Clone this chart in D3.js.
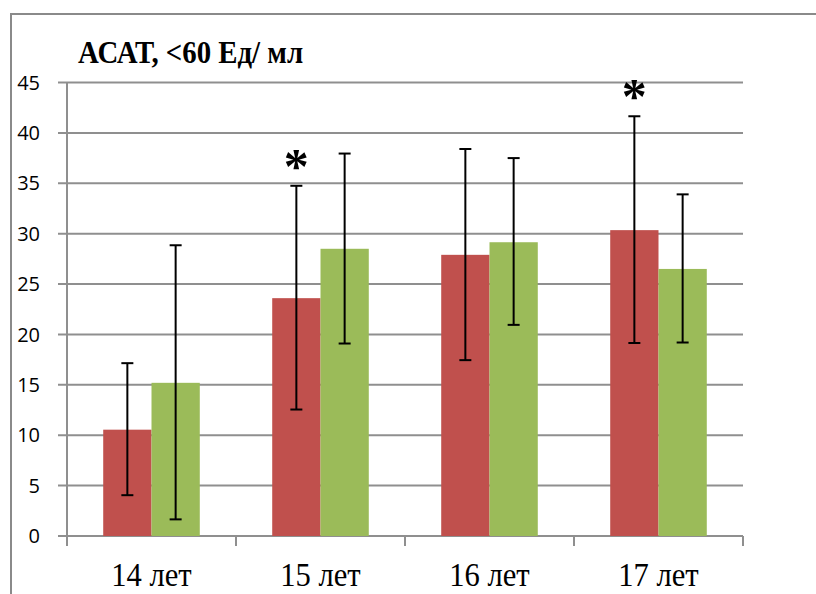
<!DOCTYPE html>
<html>
<head>
<meta charset="utf-8">
<script src="https://cdn.jsdelivr.net/npm/d3@7"></script>
<style>
  body { margin: 0; background: #fff; }
  svg { display: block; }
</style>
</head>
<body>
<div id="chart"></div>
<script>
// Chart data
const categories = ["14 лет", "15 лет", "16 лет", "17 лет"];
const seriesNames = ["red", "green"];
const redValues = [10.55, 23.6, 27.9, 30.35];
const redErrLow = [4.05, 12.55, 17.45, 19.15];
const redErrHigh = [17.15, 34.75, 38.4, 41.65];
const greenValues = [15.2, 28.5, 29.15, 26.5];
const greenErrLow = [1.65, 19.1, 20.95, 19.2];
const greenErrHigh = [28.85, 37.95, 37.5, 33.9];
const redSignificant = [false, true, false, true];
const yTicks = [0, 5, 10, 15, 20, 25, 30, 35, 40, 45];
const title = "АСАТ, <60 Ед/ мл";

const colors = { red: "#C0504D", green: "#9BBB59" };
const gridColor = "#8f8f8f";
const serif = "'Liberation Serif', 'Times New Roman', serif";

const width = 816, height = 594;
const plot = { left: 67, right: 743, top: 82.5, bottom: 536 };

const svg = d3.select("#chart").append("svg")
    .attr("width", width)
    .attr("height", height);

// Frame of the chart area (cut by the page)
svg.append("path")
    .attr("d", `M11,${height} V14 H${width}`)
    .attr("fill", "none")
    .attr("stroke", "#8a8a8a")
    .attr("stroke-width", 2);

const x = d3.scaleBand()
    .domain(categories)
    .range([plot.left, plot.right]);

const xInner = d3.scaleBand()
    .domain(seriesNames)
    .range([0, x.bandwidth()])
    .paddingOuter(0.75);

const y = d3.scaleLinear()
    .domain([0, 45])
    .range([plot.bottom, plot.top]);

// Horizontal gridlines
svg.append("g")
    .selectAll("line")
    .data(yTicks)
    .join("line")
    .attr("x1", plot.left - 9)
    .attr("x2", plot.right)
    .attr("y1", d => y(d))
    .attr("y2", d => y(d))
    .attr("stroke", gridColor)
    .attr("stroke-width", 2);

// Y axis line
svg.append("line")
    .attr("x1", plot.left).attr("x2", plot.left)
    .attr("y1", y(45)).attr("y2", y(0))
    .attr("stroke", gridColor)
    .attr("stroke-width", 2);

// X axis ticks between categories
const boundaries = categories.map(c => x(c)).concat([plot.right]);
svg.append("g")
    .selectAll("line")
    .data(boundaries)
    .join("line")
    .attr("x1", d => d).attr("x2", d => d)
    .attr("y1", y(0)).attr("y2", y(0) + 10)
    .attr("stroke", gridColor)
    .attr("stroke-width", 2);

// Y tick labels
svg.append("g")
    .selectAll("text")
    .data(yTicks)
    .join("text")
    .attr("x", 40)
    .attr("y", d => y(d))
    .attr("dy", "0.36em")
    .attr("text-anchor", "end")
    .attr("font-family", "'Open Sans', sans-serif")
    .attr("font-size", 20)
    .attr("fill", "#000")
    .text(d => d);

// X labels (the source is a bit stretched vertically)
svg.append("g")
    .selectAll("text")
    .data(categories)
    .join("text")
    .attr("transform", d => `translate(${x(d) + x.bandwidth() / 2},586) scale(1.02,1.15)`)
    .attr("text-anchor", "middle")
    .attr("font-family", serif)
    .attr("font-size", 30)
    .attr("fill", "#000")
    .text(d => d);

// Build bar records
const bars = [];
categories.forEach((c, i) => {
    bars.push({ cat: c, s: "red", v: redValues[i], lo: redErrLow[i], hi: redErrHigh[i], star: redSignificant[i] });
    bars.push({ cat: c, s: "green", v: greenValues[i], lo: greenErrLow[i], hi: greenErrHigh[i], star: false });
});

const cx = d => x(d.cat) + xInner(d.s) + xInner.bandwidth() / 2;

svg.append("g")
    .selectAll("rect")
    .data(bars)
    .join("rect")
    .attr("x", d => x(d.cat) + xInner(d.s))
    .attr("y", d => y(d.v))
    .attr("width", xInner.bandwidth())
    .attr("height", d => y(0) - y(d.v))
    .attr("fill", d => colors[d.s]);

// Error bars
const err = svg.append("g")
    .attr("stroke", "#000")
    .attr("stroke-width", 2);

err.selectAll("line.stem")
    .data(bars)
    .join("line")
    .attr("class", "stem")
    .attr("x1", cx).attr("x2", cx)
    .attr("y1", d => y(d.lo)).attr("y2", d => y(d.hi));

err.selectAll("line.cap-hi")
    .data(bars)
    .join("line")
    .attr("class", "cap-hi")
    .attr("x1", d => cx(d) - 6).attr("x2", d => cx(d) + 6)
    .attr("y1", d => y(d.hi)).attr("y2", d => y(d.hi));

err.selectAll("line.cap-lo")
    .data(bars)
    .join("line")
    .attr("class", "cap-lo")
    .attr("x1", d => cx(d) - 6).attr("x2", d => cx(d) + 6)
    .attr("y1", d => y(d.lo)).attr("y2", d => y(d.lo));

// Significance asterisks
svg.append("g")
    .selectAll("text")
    .data(bars.filter(d => d.star))
    .join("text")
    .attr("x", cx)
    .attr("y", d => y(d.hi) - 3)
    .attr("text-anchor", "middle")
    .attr("font-family", serif)
    .attr("font-weight", "bold")
    .attr("font-size", 50)
    .attr("fill", "#000")
    .text("*");

// Title
svg.append("text")
    .attr("transform", "translate(78,63) scale(1.03,1.12)")
    .attr("font-family", serif)
    .attr("font-weight", "bold")
    .attr("font-size", 28)
    .attr("fill", "#000")
    .text(title);
</script>
</body>
</html>
